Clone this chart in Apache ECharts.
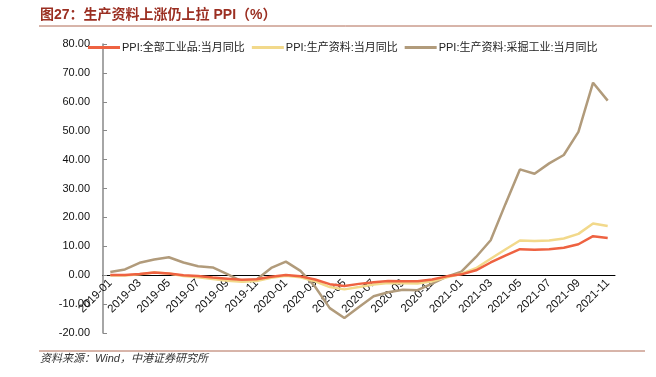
<!DOCTYPE html>
<html lang="zh">
<head>
<meta charset="UTF-8">
<title>PPI</title>
<script src="https://cdn.jsdelivr.net/npm/echarts@6/dist/echarts.min.js"></script>
<style>
  html, body { margin: 0; padding: 0; background: #fff; }
  #chart { width: 656px; height: 377px; }
</style>
</head>
<body>
<div id="chart"></div>
<script>
// months 2019-01 .. 2021-11
var months = [
  '2019-01','2019-02','2019-03','2019-04','2019-05','2019-06','2019-07','2019-08','2019-09','2019-10','2019-11','2019-12',
  '2020-01','2020-02','2020-03','2020-04','2020-05','2020-06','2020-07','2020-08','2020-09','2020-10','2020-11','2020-12',
  '2021-01','2021-02','2021-03','2021-04','2021-05','2021-06','2021-07','2021-08','2021-09','2021-10','2021-11'
];
var ppiAll = [0.1, 0.1, 0.4, 0.9, 0.6, 0.0, -0.3, -0.8, -1.2, -1.6, -1.4, -0.5,
  0.1, -0.4, -1.5, -3.1, -3.7, -3.0, -2.4, -2.0, -2.1, -2.1, -1.5, -0.4,
  0.3, 1.7, 4.4, 6.8, 9.0, 8.8, 9.0, 9.5, 10.7, 13.5, 12.9];
var ppiProd = [-0.1, -0.1, 0.3, 0.9, 0.6, -0.3, -0.7, -1.3, -1.9, -2.3, -2.0, -0.9,
  -0.2, -0.7, -2.1, -4.1, -4.9, -4.1, -3.2, -2.7, -2.8, -2.9, -2.1, -0.7,
  0.5, 2.4, 5.7, 8.9, 12.0, 11.8, 12.0, 12.7, 14.3, 17.9, 17.0];
var ppiMining = [1.1, 2.0, 4.3, 5.4, 6.2, 4.4, 3.1, 2.7, 0.4, -2.1, -1.5, 2.5,
  4.7, 1.5, -4.0, -11.4, -14.8, -11.0, -7.3, -5.9, -5.0, -5.2, -2.9, -0.5,
  1.2, 6.3, 12.1, 24.5, 36.6, 35.1, 38.7, 41.6, 49.6, 66.6, 60.4];
var seriesNames = ['PPI:全部工业品:当月同比', 'PPI:生产资料:当月同比', 'PPI:生产资料:采掘工业:当月同比'];
var colors = ['#EE6241', '#F2D98B', '#B19B7B'];
var yMin = -20, yMax = 80;

var gridTop = 44, gridBottom = 44, chartH = 377;
// x axis sits on the zero line: shift it up from the grid bottom
var zeroOffset = -(0 - yMin) / (yMax - yMin) * (chartH - gridTop - gridBottom);

var chart = echarts.init(document.getElementById('chart'));
var fontCn = '"Liberation Sans", "Noto Sans CJK SC", sans-serif';

var option = {
  animation: false,
  color: colors,
  textStyle: { fontFamily: fontCn },
  graphic: [
    { type: 'text', left: 40, top: 8,
      style: { text: '图27：生产资料上涨仍上拉 PPI（%）', fill: '#9B2F22',
        font: 'bold 14px "Liberation Sans", "Noto Sans CJK SC", sans-serif' } },
    { type: 'line', shape: { x1: 39, y1: 26, x2: 652, y2: 26 },
      style: { stroke: '#B06A55', lineWidth: 1 } },
    { type: 'line', shape: { x1: 39, y1: 351, x2: 645, y2: 351 },
      style: { stroke: '#B06A55', lineWidth: 1 } },
    { type: 'text', left: 40, top: 353,
      style: { text: '资料来源：Wind，中港证券研究所', fill: '#333',
        font: 'italic 11px "Liberation Sans", "Noto Sans CJK SC", sans-serif' } }
  ],
  legend: {
    left: 83, top: 37,
    itemWidth: 32, itemHeight: 3, itemGap: 7,
    icon: 'rect',
    textStyle: { fontSize: 11, color: '#222', padding: [0, 0, 0, -3] },
    data: seriesNames
  },
  grid: { left: 103, right: 41, top: gridTop, bottom: gridBottom },
  xAxis: {
    type: 'category',
    data: months,
    boundaryGap: true,
    position: 'bottom',
    offset: zeroOffset,
    axisLine: { onZero: false, lineStyle: { color: '#000', width: 1 } },
    axisTick: { inside: true, length: 4, interval: 1, lineStyle: { color: '#000' } },
    axisLabel: { interval: 1, rotate: 45, fontSize: 11.5, color: '#111', margin: 6 }
  },
  yAxis: {
    type: 'value',
    min: yMin, max: yMax, interval: 10,
    splitLine: { show: false },
    axisLine: { show: true, lineStyle: { color: '#888', width: 1.5 } },
    axisTick: { show: true, inside: true, length: 4, lineStyle: { color: '#888' } },
    axisLabel: { fontSize: 11, color: '#111', margin: 13,
      formatter: function (v) { return v.toFixed(2); } }
  },
  series: [
    { name: seriesNames[0], type: 'line', data: ppiAll, showSymbol: false, z: 4,
      lineStyle: { width: 2.5, color: colors[0] } },
    { name: seriesNames[1], type: 'line', data: ppiProd, showSymbol: false, z: 3,
      lineStyle: { width: 2.5, color: colors[1] } },
    { name: seriesNames[2], type: 'line', data: ppiMining, showSymbol: false, z: 2,
      lineStyle: { width: 2.5, color: colors[2] } }
  ]
};
chart.setOption(option);
</script>
</body>
</html>
